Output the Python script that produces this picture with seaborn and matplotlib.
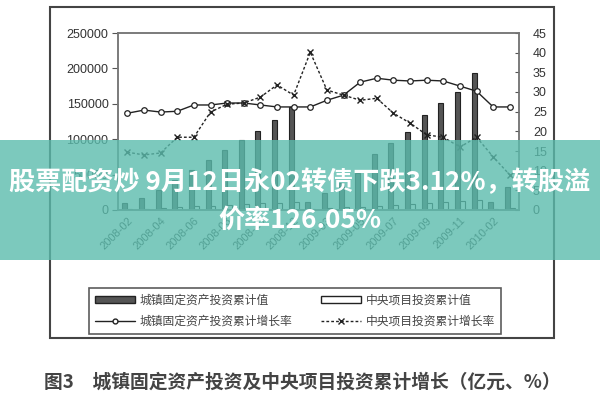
import numpy as np
import pandas as pd
import seaborn as sns
import matplotlib.pyplot as plt
from matplotlib.patches import Rectangle, Patch
from matplotlib.lines import Line2D

# 月份（1-2月合并，逢2取一个刻度）
months = ['2008-02', '2008-03', '2008-04', '2008-05', '2008-06', '2008-07',
          '2008-08', '2008-09', '2008-10', '2008-11', '2008-12',
          '2009-02', '2009-03', '2009-04', '2009-05', '2009-06', '2009-07',
          '2009-08', '2009-09', '2009-10', '2009-11', '2009-12',
          '2010-02', '2010-03']
tick_labels = months[::2]

# 累计值（亿元）
urban_fai = [10000, 17000, 28000, 42000, 56000, 71000, 85000, 99000, 111000, 127000, 145000,
             11000, 24000, 38000, 52000, 79000, 95000, 110000, 134000, 151000, 167000, 193000,
             11000, 32000]
central_fai = [1200, 2100, 3000, 4000, 5200, 6200, 7200, 8200, 9200, 10300, 12000,
               1300, 2500, 3600, 4800, 6200, 7300, 8500, 9800, 11000, 12200, 14500,
               1400, 2600]

# 累计增长率（%）
urban_growth = [24.6, 25.4, 24.9, 25.1, 26.7, 26.7, 27.2, 27.2, 26.7, 26.2, 26.2,
                26.2, 27.9, 29.2, 32.5, 33.5, 33.0, 32.8, 33.0, 32.8, 31.5, 30.2,
                26.2, 26.2]
central_growth = [14.7, 14.0, 14.5, 18.5, 18.5, 24.9, 26.9, 27.2, 28.7, 31.8, 29.2,
                  40.1, 30.5, 29.2, 27.9, 28.4, 24.6, 22.1, 19.1, 18.5, 16.0, 18.5,
                  13.5, 8.9]

name_urban = '城镇固定资产投资累计值'
name_central = '中央项目投资累计值'
name_urban_g = '城镇固定资产投资累计增长率'
name_central_g = '中央项目投资累计增长率'

sns.set_theme(style="white")
plt.rcParams['font.family'] = ['Noto Sans CJK SC', 'DejaVu Sans']

df = pd.DataFrame({
    'month': months * 2,
    'value': urban_fai + central_fai,
    'series': [name_urban] * len(months) + [name_central] * len(months),
})

fig = plt.figure(figsize=(6, 4), dpi=100)
ax = fig.add_axes([0.197, 0.475, 0.668, 0.4425])
sns.barplot(data=df, x='month', y='value', hue='series',
            palette=['#555555', 'white'], width=0.6,
            edgecolor='#222222', linewidth=0.8, legend=False, ax=ax)

ax2 = ax.twinx()
xs = np.arange(len(months))
sns.lineplot(x=xs, y=urban_growth, ax=ax2, color='#222222', linewidth=1.0,
             marker='o', markersize=4, markerfacecolor='white',
             markeredgecolor='#222222', markeredgewidth=0.9)
sns.lineplot(x=xs, y=central_growth, ax=ax2, color='#222222', linewidth=1.0,
             linestyle=(0, (2, 1.5)), marker='x', markersize=5,
             markeredgecolor='#222222', markeredgewidth=1.0)

ax.set_xlim(-0.55, 23.55)
ax.set_ylim(0, 250000)
ax2.set_ylim(0, 45)
ax.set_yticks(range(0, 250001, 50000))
ax.set_yticklabels([str(v) for v in range(0, 250001, 50000)],
                   family='Liberation Sans', fontsize=9, color='#333333')
ax2.set_yticks(range(0, 46, 5))
ax2.set_yticklabels([str(v) for v in range(0, 46, 5)],
                    family='Liberation Sans', fontsize=9, color='#333333')
ax.set_xticks(xs[::2])
ax.set_xticklabels(tick_labels, rotation=45, ha='right', rotation_mode='anchor',
                   family='Liberation Sans', fontsize=8, color='#333333')
ax.set_xlabel('')
ax.set_ylabel('')
ax2.set_ylabel('')
ax.tick_params(axis='y', direction='out', length=4, width=0.8, pad=3, color='#555555')
ax.tick_params(axis='x', direction='out', length=2, width=0.6, pad=2, color='#555555')
ax2.tick_params(axis='y', direction='in', length=3, width=0.8, pad=10, color='#555555')
for a in (ax, ax2):
    for s in a.spines.values():
        s.set_color('#777777')
        s.set_linewidth(1.1)

# 外框
fig.add_artist(Rectangle((0.083, 0.155), 0.840, 0.8275, fill=False,
                         edgecolor='#444444', linewidth=1.5,
                         transform=fig.transFigure))

# 图例
handles = [Patch(facecolor='#555555', edgecolor='#222222'),
           Line2D([], [], color='#222222', lw=1.0, marker='o', markersize=3.5,
                  markerfacecolor='white'),
           Patch(facecolor='white', edgecolor='#222222'),
           Line2D([], [], color='#222222', lw=1.0, linestyle=(0, (2, 1.5)),
                  marker='x', markersize=4)]
labels = [name_urban, name_urban_g, name_central, name_central_g]
leg = fig.legend(handles, labels, ncol=2, loc='center', mode='expand',
                 bbox_to_anchor=(0.138, 0.1625, 0.707, 0.12), fontsize=8.5,
                 frameon=True, fancybox=False, edgecolor='#333333',
                 handlelength=3.4, handleheight=0.5, handletextpad=0.4,
                 columnspacing=1.2, labelspacing=0.7, borderpad=0.5,
                 labelcolor='#444444')
leg.get_frame().set_linewidth(1.2)

# 图题
fig.text(0.504, 0.045, '图3　城镇固定资产投资及中央项目投资累计增长（亿元、%）',
         ha='center', va='center', fontsize=13.5, color='#444444', weight='bold')

# 横幅
fig.add_artist(Rectangle((0, 0.35), 1, 0.3, transform=fig.transFigure,
                         facecolor='#5bbcad', edgecolor='none', alpha=0.8, zorder=10))
fig.text(0.5, 0.5425, '股票配资炒 9月12日永02转债下跌3.12%，转股溢',
         ha='center', va='center', fontsize=18.8, color='white', weight='bold', zorder=11)
fig.text(0.5, 0.45, '价率126.05%',
         ha='center', va='center', fontsize=18.8, color='white', weight='bold', zorder=11)

fig.savefig('out.png', dpi=100)
